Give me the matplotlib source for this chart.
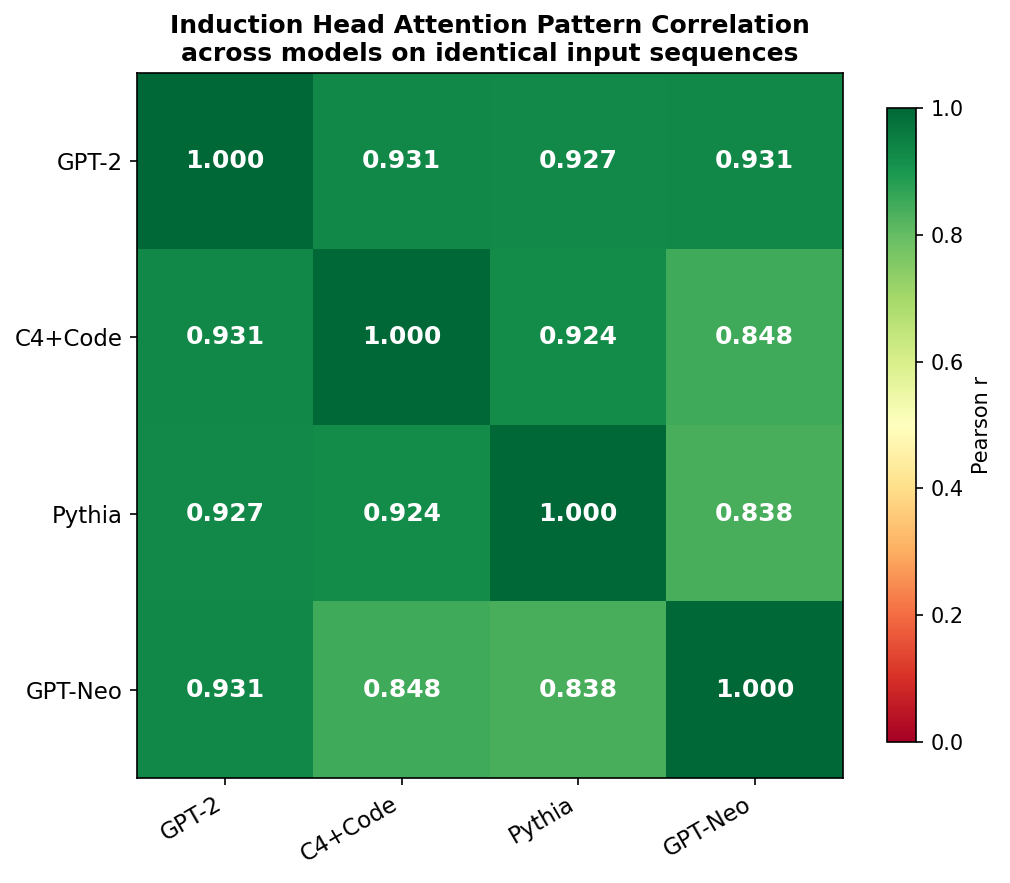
import numpy as np
import matplotlib
matplotlib.use("Agg")
import matplotlib.pyplot as plt

models = ["GPT-2", "C4+Code", "Pythia", "GPT-Neo"]
corr = np.array([
    [1.000, 0.931, 0.927, 0.931],
    [0.931, 1.000, 0.924, 0.848],
    [0.927, 0.924, 1.000, 0.838],
    [0.931, 0.848, 0.838, 1.000],
])

fig = plt.figure(figsize=(1010 / 150, 883 / 150), dpi=150)
ax = fig.add_axes([137 / 1010, 1 - 778 / 883, 706 / 1010, 705 / 883])
im = ax.imshow(corr, cmap="RdYlGn", vmin=0, vmax=1, aspect="auto")

for i in range(len(models)):
    for j in range(len(models)):
        ax.text(j, i, f"{corr[i, j]:.3f}", ha="center", va="center",
                color="white", fontsize=12, fontweight="bold")

ax.set_xticks(range(len(models)))
ax.set_yticks(range(len(models)))
ax.set_xticklabels(models, rotation=30, ha="right", fontsize=11)
ax.set_yticklabels(models, fontsize=11)
ax.set_title("Induction Head Attention Pattern Correlation\nacross models on identical input sequences",
             fontsize=12, fontweight="bold")

cax = fig.add_axes([887 / 1010, 1 - 742 / 883, 29 / 1010, 634 / 883])
cb = fig.colorbar(im, cax=cax)
cb.set_label("Pearson r", fontsize=10)
cb.ax.tick_params(labelsize=10)

fig.savefig("out.png", dpi=150)
